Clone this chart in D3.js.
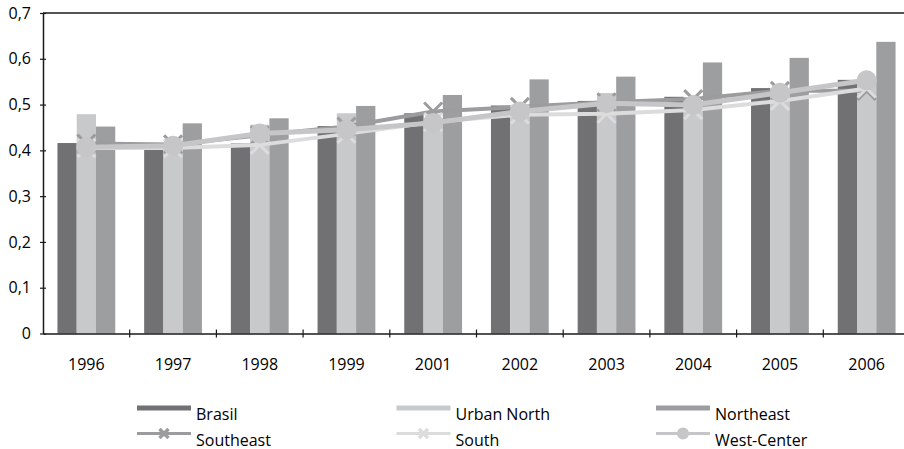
<!DOCTYPE html>
<html>
<head>
<meta charset="utf-8">
<script src="https://cdn.jsdelivr.net/npm/d3@7"></script>
<style>
  body { margin: 0; background: #fff; }
  svg { display: block; font-family: "Open Sans", "Noto Sans", sans-serif; }
</style>
</head>
<body>
<div id="chart"></div>
<script>
'use strict';

var years      = ['1996', '1997', '1998', '1999', '2001', '2002', '2003', '2004', '2005', '2006'];
var brasil     = [0.416, 0.405, 0.415, 0.453, 0.481, 0.498, 0.508, 0.517, 0.536, 0.554];
var urbanNorth = [0.479, 0.410, 0.456, 0.481, 0.460, 0.485, 0.525, 0.500, 0.525, 0.545];
var northeast  = [0.452, 0.459, 0.470, 0.497, 0.521, 0.555, 0.561, 0.592, 0.602, 0.637];
var southeast  = [0.415, 0.413, 0.433, 0.452, 0.485, 0.495, 0.505, 0.512, 0.530, 0.530];
var south      = [0.405, 0.405, 0.412, 0.436, 0.462, 0.478, 0.480, 0.488, 0.508, 0.535];
var westCenter = [0.407, 0.410, 0.437, 0.445, 0.460, 0.485, 0.503, 0.499, 0.526, 0.553];
var yTicks     = [0, 0.1, 0.2, 0.3, 0.4, 0.5, 0.6, 0.7];

var barSeries = [
  { name: 'Brasil',      values: brasil,     color: '#717174' },
  { name: 'Urban North', values: urbanNorth, color: '#c8c9cb' },
  { name: 'Northeast',   values: northeast,  color: '#9d9ea0' }
];
var lineSeries = [
  { name: 'Southeast',   values: southeast,  color: '#9c9c9e', marker: 'x',      width: 4 },
  { name: 'South',       values: south,      color: '#dcdcdd', marker: 'x',      width: 4 },
  { name: 'West-Center', values: westCenter, color: '#c6c6c8', marker: 'circle', width: 5 }
];

var svgWidth = 904, svgHeight = 449;
var margin = { top: 13, left: 43 };
var plotRight = 910, plotBottom = 333.5;
var fontSize = '16px';

var svg = d3.select('#chart').append('svg')
    .attr('width', svgWidth)
    .attr('height', svgHeight);

var x = d3.scaleBand()
    .domain(years)
    .range([margin.left, plotRight]);

var y = d3.scaleLinear()
    .domain([0, 0.7])
    .range([plotBottom, margin.top]);

var barW = x.bandwidth() / 4.5;
var x1 = d3.scaleBand()
    .domain(barSeries.map(function(d) { return d.name; }))
    .range([0, barW * 3]);
var groupOffset = (x.bandwidth() - barW * 3) / 2;

// bars
barSeries.forEach(function(s) {
  svg.append('g')
    .selectAll('rect')
    .data(s.values)
    .enter().append('rect')
    .attr('x', function(d, i) { return x(years[i]) + groupOffset + x1(s.name); })
    .attr('y', function(d) { return y(d); })
    .attr('width', x1.bandwidth())
    .attr('height', function(d) { return y(0) - y(d); })
    .style('fill', s.color);
});

// top border
svg.append('line')
  .attr('x1', margin.left).attr('x2', plotRight)
  .attr('y1', y(0.7)).attr('y2', y(0.7))
  .style('stroke', '#1a1a1a').style('stroke-width', 1.5);

// lines + markers
var line = d3.line()
    .x(function(d, i) { return x(years[i]) + x.bandwidth() / 2; })
    .y(function(d) { return y(d); });

function drawX(g, cx, cy, r, color, w) {
  g.append('path')
    .attr('d', 'M' + (cx - r) + ',' + (cy - r) + 'L' + (cx + r) + ',' + (cy + r) +
               'M' + (cx - r) + ',' + (cy + r) + 'L' + (cx + r) + ',' + (cy - r))
    .style('stroke', color).style('stroke-width', w || 3).style('fill', 'none');
}

lineSeries.forEach(function(s) {
  var g = svg.append('g');
  g.append('path')
    .datum(s.values)
    .attr('d', line)
    .style('fill', 'none')
    .style('stroke', s.color)
    .style('stroke-width', s.width);
  s.values.forEach(function(v, i) {
    var cx = x(years[i]) + x.bandwidth() / 2, cy = y(v);
    if (s.marker === 'x') drawX(g, cx, cy, 9, s.color);
    else g.append('circle').attr('cx', cx).attr('cy', cy).attr('r', 10).style('fill', s.color);
  });
});

// axes
var yAxis = d3.axisLeft(y)
    .tickValues(yTicks)
    .tickSizeInner(3).tickSizeOuter(0)
    .tickPadding(9)
    .tickFormat(function(d) { return d === 0 ? '0' : d3.format('.1f')(d).replace('.', ','); });

var gy = svg.append('g')
    .attr('transform', 'translate(' + margin.left + ',0)')
    .call(yAxis);
gy.selectAll('.tick line').attr('x2', 3).attr('x1', -3);

var gx = svg.append('g')
    .attr('transform', 'translate(0,' + plotBottom + ')')
    .call(d3.axisBottom(x).tickSize(0).tickPadding(25));

gx.selectAll('.tick').each(function(d, i) {
  if (i === 0) return;
  var xs = x(d);
  svg.append('line')
    .attr('x1', xs).attr('x2', xs)
    .attr('y1', plotBottom - 4).attr('y2', plotBottom + 4)
    .style('stroke', '#1a1a1a').style('stroke-width', 1.2);
});

[gx, gy].forEach(function(g) {
  g.select('.domain').style('stroke', '#1a1a1a').style('stroke-width', 1.5);
  g.selectAll('.tick line').style('stroke', '#1a1a1a').style('stroke-width', 1.2);
  g.selectAll('text').style('font-size', fontSize).style('fill', '#000')
    .style('font-family', '"Open Sans", "Noto Sans", sans-serif');
});

// legend
var legendItems = barSeries.map(function(d) { return { s: d, type: 'bar' }; })
  .concat(lineSeries.map(function(d) { return { s: d, type: 'line' }; }));

var legend = svg.append('g');
legendItems.forEach(function(item, i) {
  var col = i % 3, row = Math.floor(i / 3);
  var lx = 137 + col * 259.5, ly = 408 + row * 25.5;
  var g = legend.append('g');
  if (item.type === 'bar') {
    g.append('rect')
      .attr('x', lx).attr('y', ly - 2.5)
      .attr('width', 54).attr('height', 5)
      .style('fill', item.s.color);
  } else {
    g.append('line')
      .attr('x1', lx).attr('x2', lx + 54)
      .attr('y1', ly).attr('y2', ly)
      .style('stroke', item.s.color).style('stroke-width', 3);
    if (item.s.marker === 'x') drawX(g, lx + 27, ly, 4.5, item.s.color, 3.5);
    else g.append('circle').attr('cx', lx + 27).attr('cy', ly).attr('r', 6).style('fill', item.s.color);
  }
  g.append('text')
    .attr('x', lx + 59)
    .attr('y', ly + 12)
    .style('font-size', fontSize)
    .style('fill', '#000')
    .text(item.s.name);
});
</script>
</body>
</html>
